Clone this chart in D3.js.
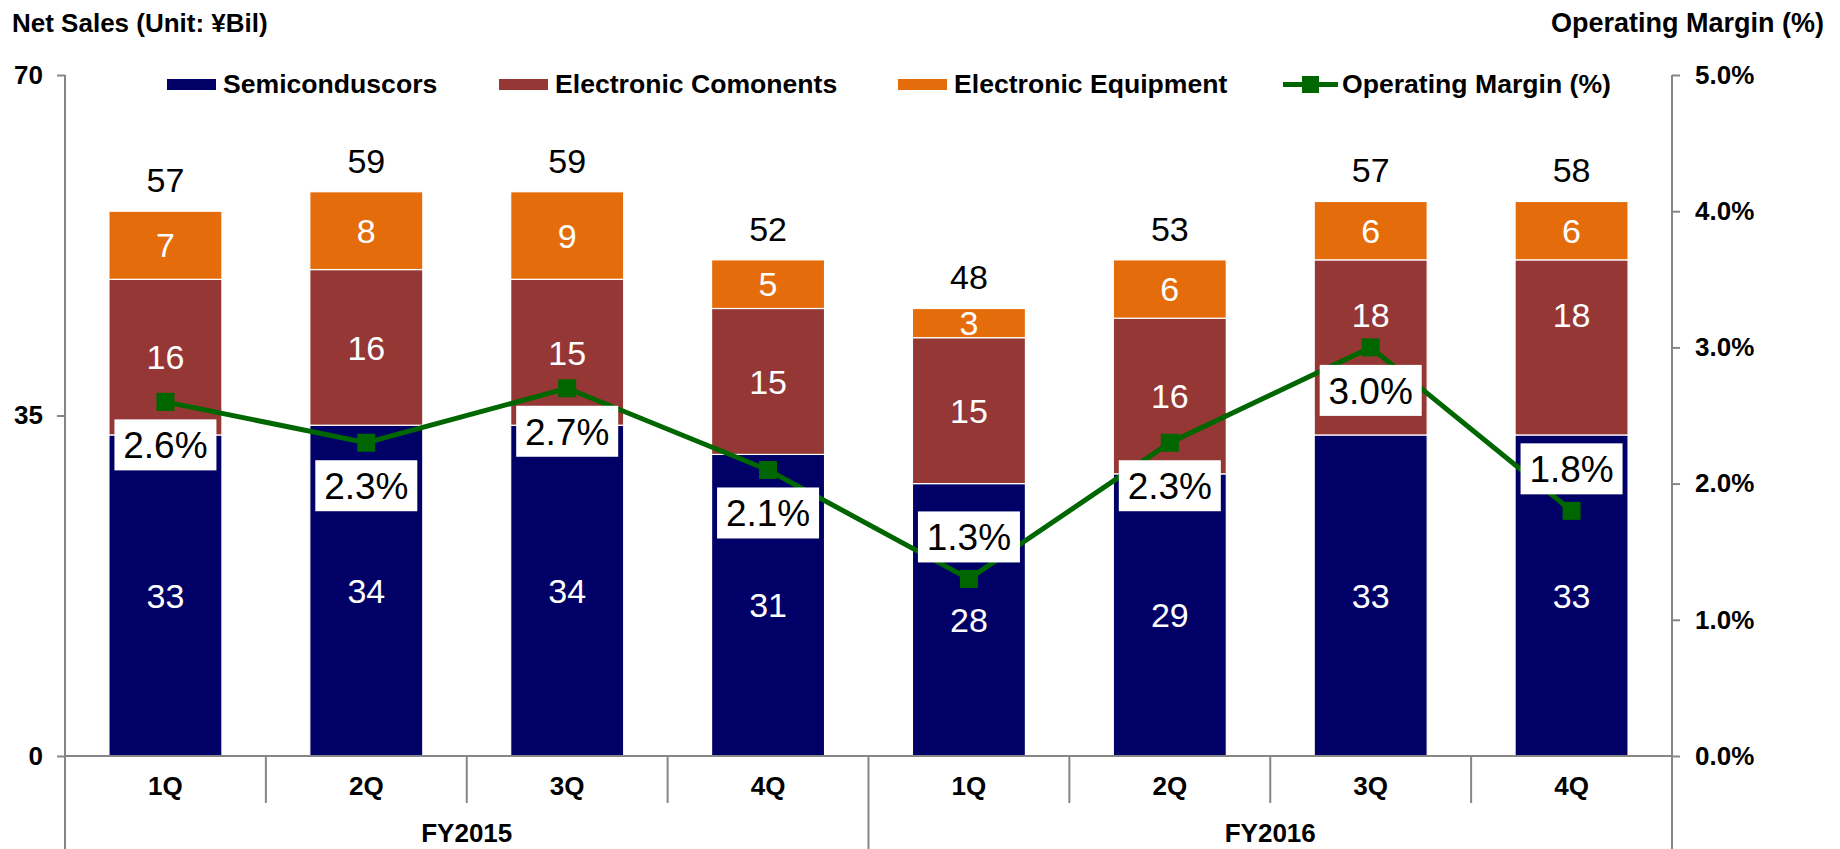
<!DOCTYPE html>
<html>
<head>
<meta charset="utf-8">
<script src="https://cdn.jsdelivr.net/npm/d3@7"></script>
<style>
  html, body { margin: 0; padding: 0; background: #fff; }
  svg { display: block; }
  text { font-family: "Liberation Sans", Arial, Helvetica, sans-serif; }
</style>
</head>
<body>
<svg id="chart" width="1840" height="849"></svg>
<script>
// Quarterly net sales by segment (¥ billions) and operating margin (%)
const quarters = ["1Q", "2Q", "3Q", "4Q", "1Q", "2Q", "3Q", "4Q"];
const fiscalYears = ["FY2015", "FY2016"];
const semiconductors = [33, 34, 34, 31, 28, 29, 33, 33];
const electronicComponents = [16, 16, 15, 15, 15, 16, 18, 18];
const electronicEquipment = [7, 8, 9, 5, 3, 6, 6, 6];
const netSalesTotals = [57, 59, 59, 52, 48, 53, 57, 58];
const operatingMargin = [2.6, 2.3, 2.7, 2.1, 1.3, 2.3, 3.0, 1.8];
const salesTicks = [0, 35, 70];
const marginTicks = [0, 1, 2, 3, 4, 5];
const seriesNames = ["Semiconduscors", "Electronic Comonents", "Electronic Equipment"];
const lineName = "Operating Margin (%)";

const colors = ["#000066", "#953735", "#E46C0A"];
const lineColor = "#006600";
const axisColor = "#868686";

// Layout tweaks: margin labels sit under the marker unless they would hit the line,
// and the last two component labels are lifted clear of the margin line.
const marginLabelAbove = [false, false, false, false, true, false, false, true];
const labelLift = { s1: [0, 0, 0, 0, 0, 0, 33, 33] };

const svg = d3.select("#chart");
const plotLeft = 65, plotRight = 1672, plotTop = 75, plotBase = 756;

const rows = quarters.map((q, i) => ({
  idx: i,
  s0: semiconductors[i],
  s1: electronicComponents[i],
  s2: electronicEquipment[i]
}));
const keys = ["s0", "s1", "s2"];

const x = d3.scaleBand()
  .domain(d3.range(quarters.length))
  .range([plotLeft, plotRight])
  .paddingInner(0.4375)
  .paddingOuter(0.21875);
const y = d3.scaleLinear().domain([0, 70]).range([plotBase, plotTop]);
const y2 = d3.scaleLinear().domain([0, 5]).range([plotBase, plotTop]);

const stacked = d3.stack().keys(keys)(rows);

// Titles
svg.append("text").attr("x", 12).attr("y", 32)
  .attr("font-size", 26).attr("font-weight", "bold").attr("fill", "#000")
  .text("Net Sales (Unit: ¥Bil)");
svg.append("text").attr("x", 1824).attr("y", 32).attr("text-anchor", "end")
  .attr("font-size", 27).attr("font-weight", "bold").attr("fill", "#000")
  .text("Operating Margin (%)");

// Stacked bars
const layers = svg.append("g").selectAll("g")
  .data(stacked).join("g")
  .attr("fill", (d, i) => colors[i]);

layers.selectAll("rect")
  .data(d => d).join("rect")
  .attr("x", d => x(d.data.idx))
  .attr("width", x.bandwidth())
  .attr("y", d => y(d[1]))
  .attr("height", d => y(d[0]) - y(d[1]))
  .attr("stroke", "#fff")
  .attr("stroke-width", 1.2);

// Segment value labels
layers.selectAll("text")
  .data((d, i) => d.map(v => ({ v, key: keys[i] })))
  .join("text")
  .attr("x", d => x(d.v.data.idx) + x.bandwidth() / 2)
  .attr("y", d => (y(d.v[0]) + y(d.v[1])) / 2 - (labelLift[d.key] ? labelLift[d.key][d.v.data.idx] : 0))
  .attr("dy", "0.36em")
  .attr("text-anchor", "middle")
  .attr("font-size", 34)
  .attr("fill", "#fff")
  .text(d => d.v.data[d.key]);

// Totals above bars
const topLayer = stacked[stacked.length - 1];
svg.append("g").selectAll("text")
  .data(topLayer).join("text")
  .attr("x", d => x(d.data.idx) + x.bandwidth() / 2)
  .attr("y", d => y(d[1]) - 19)
  .attr("text-anchor", "middle")
  .attr("font-size", 34)
  .attr("fill", "#000")
  .text((d, i) => netSalesTotals[i]);

// Axes
const axisL = svg.append("g").attr("transform", `translate(${plotLeft},0)`)
  .call(d3.axisLeft(y).tickValues(salesTicks).tickSize(8).tickSizeOuter(0).tickPadding(14));
const axisR = svg.append("g").attr("transform", `translate(${plotRight},0)`)
  .call(d3.axisRight(y2).tickValues(marginTicks).tickSize(8).tickSizeOuter(0).tickPadding(15)
    .tickFormat(d => d.toFixed(1) + "%"));
[axisL, axisR].forEach(g => {
  g.select(".domain").remove();
  g.selectAll(".tick line").attr("stroke", axisColor).attr("stroke-width", 2);
  g.selectAll(".tick text")
    .attr("font-family", "Liberation Sans, Arial, sans-serif")
    .attr("font-size", 26).attr("font-weight", "bold").attr("fill", "#000");
});

// Axis frame and category dividers
const frame = svg.append("g").attr("stroke", axisColor).attr("stroke-width", 2);
const step = x.step();
const boundary = k => plotLeft + k * step;
frame.append("line").attr("x1", plotLeft).attr("x2", plotRight).attr("y1", plotBase).attr("y2", plotBase);
d3.range(quarters.length + 1).forEach(k => {
  const isGroup = k % 4 === 0;
  frame.append("line")
    .attr("x1", boundary(k)).attr("x2", boundary(k))
    .attr("y1", isGroup && (k === 0 || k === quarters.length) ? plotTop : plotBase)
    .attr("y2", isGroup ? 849 : 803);
});

// Category labels
svg.append("g").selectAll("text")
  .data(quarters).join("text")
  .attr("x", (d, i) => x(i) + x.bandwidth() / 2)
  .attr("y", 795)
  .attr("text-anchor", "middle")
  .attr("font-size", 26).attr("font-weight", "bold").attr("fill", "#000")
  .text(d => d);
svg.append("g").selectAll("text")
  .data(fiscalYears).join("text")
  .attr("x", (d, i) => (boundary(i * 4) + boundary(i * 4 + 4)) / 2)
  .attr("y", 842)
  .attr("text-anchor", "middle")
  .attr("font-size", 26).attr("font-weight", "bold").attr("fill", "#000")
  .text(d => d);

// Operating margin line
const cx = i => x(i) + x.bandwidth() / 2;
svg.append("path")
  .datum(operatingMargin)
  .attr("fill", "none")
  .attr("stroke", lineColor)
  .attr("stroke-width", 5)
  .attr("d", d3.line().x((d, i) => cx(i)).y(d => y2(d)));
svg.append("g").selectAll("rect")
  .data(operatingMargin).join("rect")
  .attr("x", (d, i) => cx(i) - 9)
  .attr("y", d => y2(d) - 9)
  .attr("width", 18).attr("height", 18)
  .attr("fill", lineColor);

// Margin value boxes
const lbl = svg.append("g").selectAll("g")
  .data(operatingMargin).join("g")
  .attr("transform", (d, i) => `translate(${cx(i)},${y2(d) + (marginLabelAbove[i] ? -42 : 43)})`);
lbl.append("rect")
  .attr("x", -51).attr("y", -25.5)
  .attr("width", 102).attr("height", 51)
  .attr("fill", "#fff");
lbl.append("text")
  .attr("text-anchor", "middle")
  .attr("dy", "0.36em")
  .attr("font-size", 37)
  .attr("fill", "#000")
  .text(d => d.toFixed(1) + "%");

// Legend
const legend = svg.append("g");
const legendX = [167, 499, 898];
seriesNames.forEach((name, i) => {
  legend.append("rect").attr("x", legendX[i]).attr("y", 79)
    .attr("width", 49).attr("height", 11).attr("fill", colors[i]);
  legend.append("text").attr("x", legendX[i] + 56).attr("y", 93)
    .attr("font-size", 26.6).attr("font-weight", "bold").attr("fill", "#000")
    .text(name);
});
legend.append("line").attr("x1", 1283).attr("x2", 1338).attr("y1", 84.5).attr("y2", 84.5)
  .attr("stroke", lineColor).attr("stroke-width", 5);
legend.append("rect").attr("x", 1302).attr("y", 76).attr("width", 17).attr("height", 17)
  .attr("fill", lineColor);
legend.append("text").attr("x", 1342).attr("y", 93)
  .attr("font-size", 26.6).attr("font-weight", "bold").attr("fill", "#000")
  .text(lineName);
</script>
</body>
</html>
